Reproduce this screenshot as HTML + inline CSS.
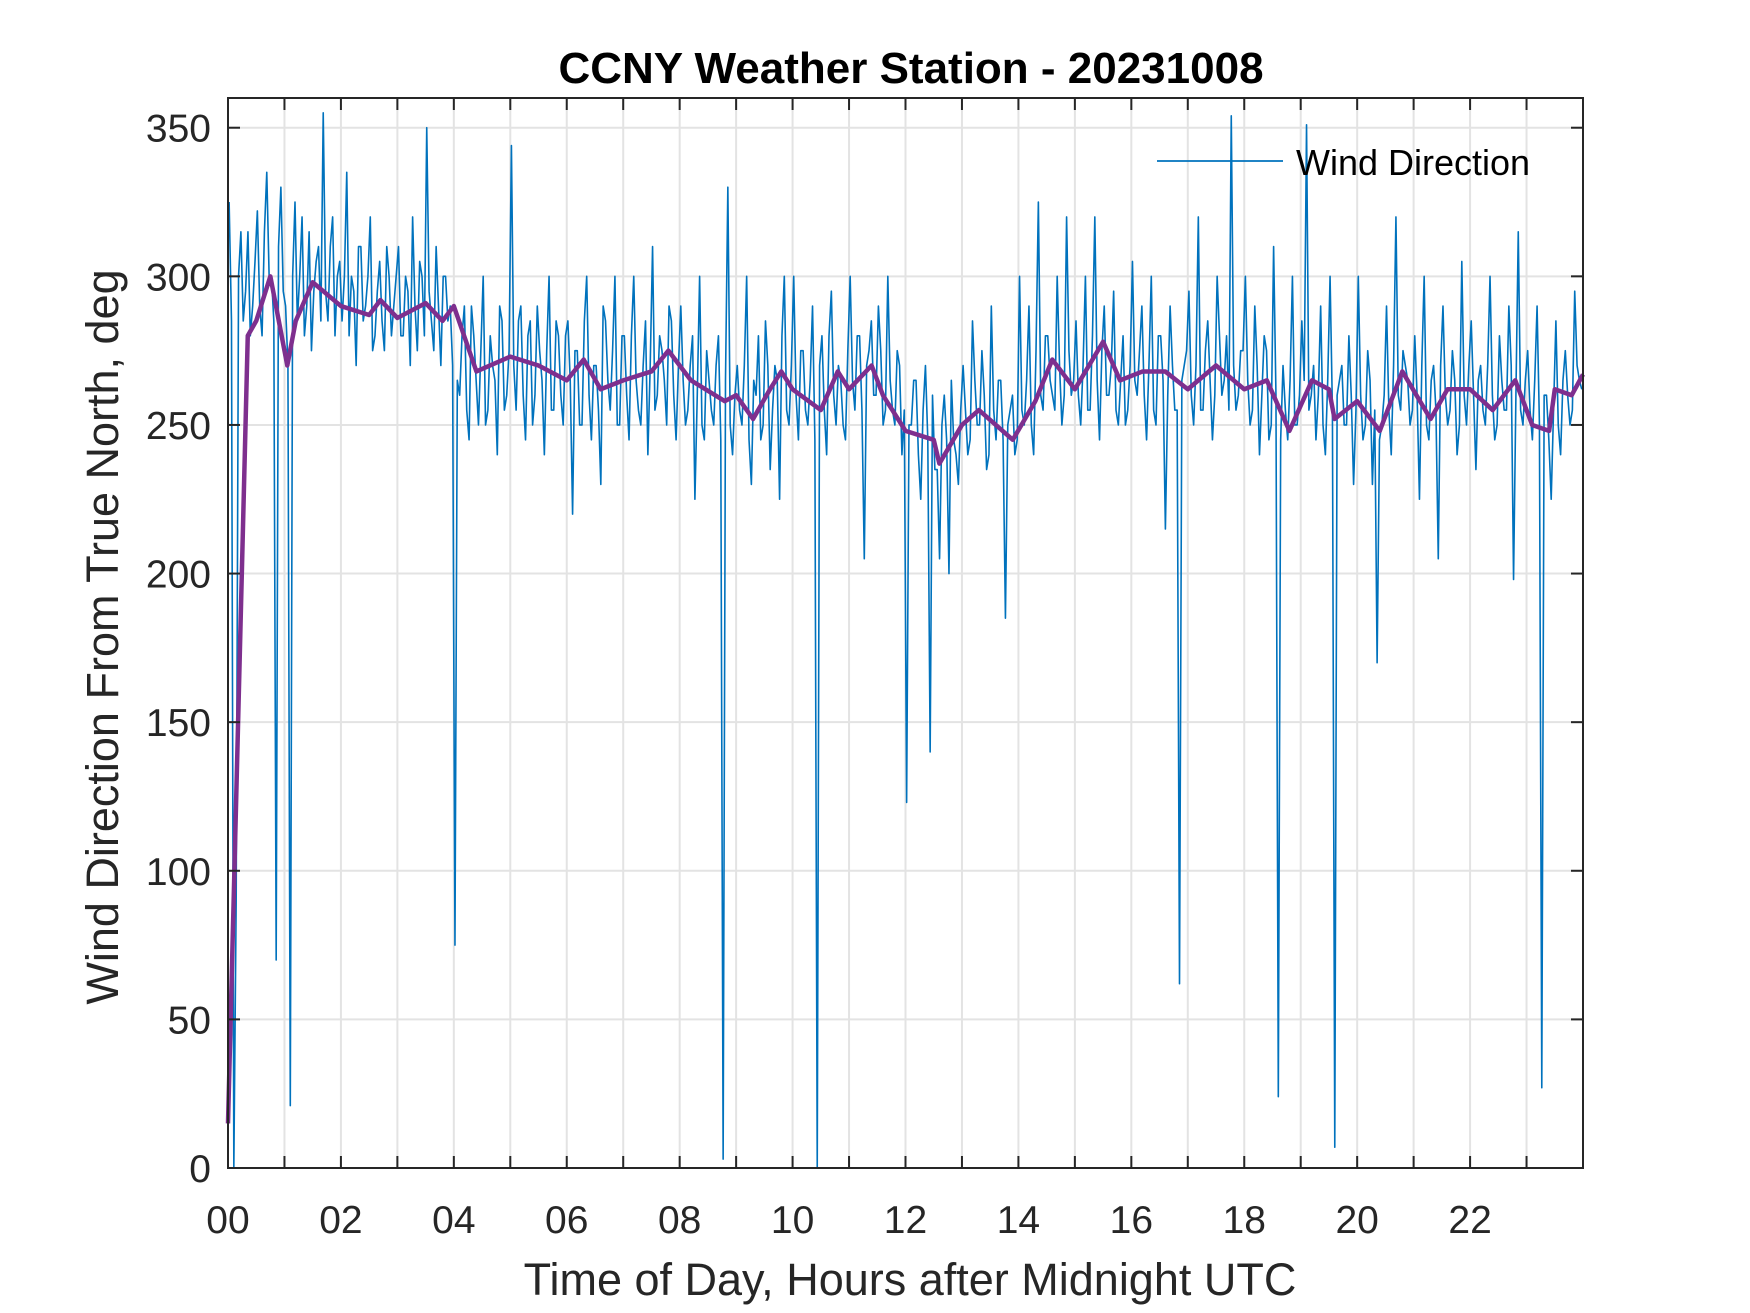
<!DOCTYPE html>
<html><head><meta charset="utf-8"><style>
body{margin:0;background:#fff}
svg{display:block;font-family:"Liberation Sans",Arial,sans-serif}
</style></head><body>
<svg id="chart" width="1750" height="1313" viewBox="0 0 1750 1313" xmlns="http://www.w3.org/2000/svg">
<rect width="1750" height="1313" fill="#fff"/>
<g id="grid"></g>
<g id="series"></g>
<g id="axes"></g>
<text x="911" y="83" text-anchor="middle" font-size="44" font-weight="bold" fill="#000">CCNY Weather Station - 20231008</text>
<text x="910" y="1295" text-anchor="middle" font-size="45" fill="#262626">Time of Day, Hours after Midnight UTC</text>
<text transform="translate(118,637) rotate(-90)" text-anchor="middle" font-size="45" fill="#262626">Wind Direction From True North, deg</text>
<g>
<line x1="1157" y1="161" x2="1283" y2="161" stroke="#0072BD" stroke-width="1.8"/>
<text x="1296" y="175" font-size="36" fill="#000">Wind Direction</text>
</g>
</svg>
<script>
const rawWindDirection = [
325,0,300,285,315,290,322,280,335,300,70,330,
290,21,325,300,280,315,295,310,355,285,320,300,
285,335,300,270,310,290,320,280,305,275,300,290,
310,280,295,320,275,300,350,285,310,270,300,290,
75,260,290,245,280,250,300,255,270,240,285,260,
344,255,290,245,285,260,275,240,300,255,280,250,
285,220,275,250,300,245,270,230,285,255,300,250,
280,245,300,255,270,240,310,260,275,250,285,245,
290,250,270,225,300,245,265,250,280,3,330,240,
270,250,300,230,260,245,285,235,270,225,300,250,
300,245,275,250,290,0,280,240,295,250,265,245,
300,255,280,205,275,260,290,250,300,255,275,240,
123,250,265,225,270,140,235,205,260,200,245,230,
270,240,285,250,275,235,290,245,265,185,255,240,
300,250,290,240,325,255,280,260,300,250,320,260,
285,250,300,255,320,245,290,260,295,250,280,255,
305,260,290,245,300,250,280,215,290,255,62,270,
295,250,320,255,285,245,300,260,280,354,255,275,
300,250,290,240,280,245,310,24,270,245,300,250,
285,351,260,245,290,240,300,7,265,250,280,230,
300,245,275,230,170,250,290,240,320,255,270,250,
280,225,300,245,270,205,290,250,275,240,305,250,
285,235,270,250,300,245,280,255,290,198,315,250,
275,245,290,27,260,225,285,240,275,250,295,265];
const rawWindDirectionMid = [
285,90,315,295,280,305,290,315,300,285,310,295,
270,300,285,320,290,275,305,285,295,310,280,305,
300,280,295,310,285,300,275,295,285,310,280,300,
280,300,270,290,305,280,295,275,290,300,285,270,
265,280,255,290,265,275,250,280,265,290,255,275,
270,285,260,280,250,290,265,275,255,285,260,280,
265,275,250,285,260,270,255,290,265,275,250,280,
260,280,265,250,285,270,255,280,265,290,260,270,
265,255,280,260,250,275,255,270,245,265,250,260,
255,270,245,265,280,250,270,255,265,280,255,270,
260,275,255,265,245,270,255,280,260,270,250,275,
265,280,255,270,285,260,275,255,265,250,270,255,
250,265,240,255,245,260,235,250,245,265,240,255,
255,245,265,250,260,240,255,265,245,250,260,245,
255,265,250,275,260,280,265,255,270,260,275,265,
260,270,255,280,265,275,260,270,255,265,250,270,
265,275,260,270,255,280,265,260,270,255,265,275,
260,270,255,275,265,260,280,265,255,270,260,275,
265,255,270,260,275,250,260,245,255,265,250,260,
265,255,270,260,250,265,255,260,270,250,260,255,
260,250,265,255,245,260,255,270,260,275,265,255,
260,270,250,265,255,270,260,255,265,250,260,270,
260,265,255,270,260,250,265,255,270,260,255,265,
255,265,250,260,245,255,250,265,260,255,270,262];
const avgHours = [0,0.1,0.35,0.5,0.75,0.9,1.05,1.2,1.5,2,2.5,2.7,3,3.5,3.8,4,4.4,5,5.5,6,6.3,6.6,7,7.5,7.8,8.2,8.8,9,9.3,9.6,9.8,10,10.5,10.8,11,11.4,11.6,12,12.5,12.6,13,13.3,13.6,13.9,14.3,14.6,15,15.5,15.8,16.2,16.6,17,17.5,18,18.4,18.8,19.2,19.5,19.6,20,20.4,20.8,21.3,21.6,22,22.4,22.8,23.1,23.4,23.5,23.8,24];
const avgValues = [15,90,280,285,300,285,270,285,298,290,287,292,286,291,285,290,268,273,270,265,272,262,265,268,275,265,258,260,252,262,268,262,255,268,262,270,260,248,245,237,250,255,250,245,258,272,262,278,265,268,268,262,270,262,265,248,265,262,252,258,248,268,252,262,262,255,265,250,248,262,260,267];
const yTicks = [0,50,100,150,200,250,300,350];
const xTickLabels = ["00","02","04","06","08","10","12","14","16","18","20","22"];

const L=228,R=1583,T=98,B=1168;
const xs=h=>L+(h/24)*(R-L);
const ys=v=>B-(v/360)*(B-T);
const NS="http://www.w3.org/2000/svg";
function mk(tag,attrs,parent){const e=document.createElementNS(NS,tag);for(const k in attrs)e.setAttribute(k,attrs[k]);parent.appendChild(e);return e;}
const grid=document.getElementById('grid'),series=document.getElementById('series'),axes=document.getElementById('axes');
for(let h=1;h<24;h++){const g=mk('line',{x1:xs(h),x2:xs(h),y1:T,y2:B,stroke:'#e3e3e3','stroke-width':2},grid);

}
yTicks.forEach(v=>{if(v>0){const g=mk('line',{x1:L,x2:R,y1:ys(v),y2:ys(v),stroke:'#e3e3e3','stroke-width':2},grid);

}
const t=mk('text',{x:211,y:ys(v)+14,'text-anchor':'end','font-size':39,fill:'#262626'},axes);t.textContent=v;


mk('line',{x1:L,x2:L+12,y1:ys(v),y2:ys(v),stroke:'#262626','stroke-width':2},axes);
mk('line',{x1:R,x2:R-12,y1:ys(v),y2:ys(v),stroke:'#262626','stroke-width':2},axes);});
for(let h=0;h<24;h++){mk('line',{x1:xs(h),x2:xs(h),y1:B,y2:B-12,stroke:'#262626','stroke-width':2},axes);
mk('line',{x1:xs(h),x2:xs(h),y1:T,y2:T+12,stroke:'#262626','stroke-width':2},axes);}
xTickLabels.forEach((s,i)=>{const t=mk('text',{x:xs(i*2),y:1233,'text-anchor':'middle','font-size':39,fill:'#262626'},axes);t.textContent=s;

});
const fr=mk('rect',{x:L,y:T,width:R-L,height:B-T,fill:'none',stroke:'#262626','stroke-width':2},axes);


const step=24/rawWindDirection.length;
const pts=[];
rawWindDirection.forEach((v,i)=>{pts.push(xs(i*step+0.02)+','+ys(v));pts.push(xs(i*step+0.02+step/2)+','+ys(rawWindDirectionMid[i]));});
const p1=mk('polyline',{points:pts.join(' '),fill:'none',stroke:'#0072BD','stroke-width':1.6,'stroke-linejoin':'round'},series);


const p2=mk('polyline',{points:avgValues.map((v,i)=>xs(avgHours[i])+','+ys(v)).join(' '),fill:'none',stroke:'#7E2F8E','stroke-width':4.5,'stroke-linejoin':'round'},series);


</script>
</body></html>
